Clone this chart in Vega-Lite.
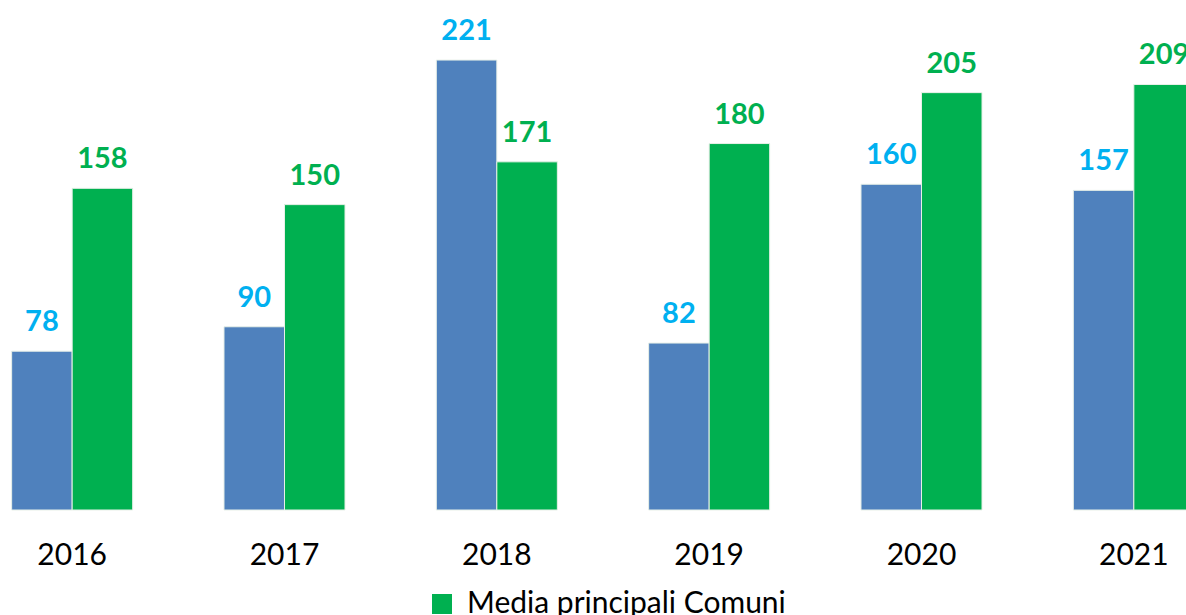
{
  "$schema": "https://vega.github.io/schema/vega-lite/v6.json",
  "width": 1274,
  "height": 510,
  "autosize": {"type": "none"},
  "padding": {"left": -34, "top": 0, "right": 0, "bottom": 105},
  "background": "white",
  "config": {"view": {"stroke": null}, "font": "Lato"},
  "data": {"values": [
    {"anno": "2016", "serie": "Comune", "valore": 78},
    {"anno": "2016", "serie": "Media principali Comuni", "valore": 158},
    {"anno": "2017", "serie": "Comune", "valore": 90},
    {"anno": "2017", "serie": "Media principali Comuni", "valore": 150},
    {"anno": "2018", "serie": "Comune", "valore": 221},
    {"anno": "2018", "serie": "Media principali Comuni", "valore": 171},
    {"anno": "2019", "serie": "Comune", "valore": 82},
    {"anno": "2019", "serie": "Media principali Comuni", "valore": 180},
    {"anno": "2020", "serie": "Comune", "valore": 160},
    {"anno": "2020", "serie": "Media principali Comuni", "valore": 205},
    {"anno": "2021", "serie": "Comune", "valore": 157},
    {"anno": "2021", "serie": "Media principali Comuni", "valore": 209}
  ]},
  "encoding": {
    "x": {"field": "anno", "type": "nominal", "scale": {"paddingInner": 0.43, "paddingOuter": 0.215},
      "axis": {"title": null, "domain": false, "ticks": false, "grid": false, "labelAngle": 0, "labelFontSize": 30, "labelColor": "#000000", "labelPadding": 30, "labelFont": "Lato"}},
    "xOffset": {"field": "serie", "type": "nominal", "sort": ["Comune", "Media principali Comuni"], "scale": {"paddingInner": 0, "paddingOuter": 0}},
    "y": {"field": "valore", "type": "quantitative", "scale": {"domain": [0, 250.5], "nice": false}, "axis": null}
  },
  "layer": [
    {
      "mark": {"type": "bar", "stroke": "#e8f0e8", "strokeWidth": 1},
      "encoding": {
        "color": {"field": "serie", "type": "nominal", "sort": ["Comune", "Media principali Comuni"],
          "scale": {"domain": ["Comune", "Media principali Comuni"], "range": ["#4F81BD", "#00B050"]},
          "legend": {"values": ["Media principali Comuni"], "title": null, "orient": "none", "legendX": 461, "legendY": 589, "symbolType": "square", "symbolSize": 400, "symbolStrokeWidth": 0, "labelFontSize": 30, "labelColor": "#000000", "labelFont": "Lato", "labelOffset": 10, "labelLimit": 500}}
      }
    },
    {
      "mark": {"type": "text", "fontWeight": "bold", "fontSize": 29, "baseline": "alphabetic", "dy": -20, "font": "Lato"},
      "encoding": {
        "text": {"field": "valore", "type": "quantitative"},
        "color": {"condition": {"test": "datum.serie === 'Media principali Comuni'", "value": "#00B050"}, "value": "#00B0F0"}
      }
    }
  ]
}
